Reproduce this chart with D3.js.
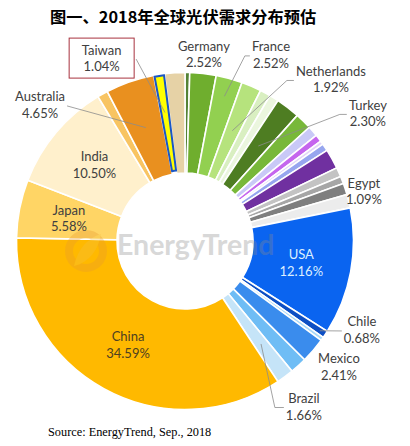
<!DOCTYPE html>
<html><head><meta charset="utf-8">
<script src="https://cdn.jsdelivr.net/npm/d3@7"></script>
<style>body{margin:0;background:#fff}svg{display:block}</style>
</head><body><svg id="chart" width="410" height="446"></svg>
<script>
// ---------- data ----------
const title = "图一、2018年全球光伏需求分布预估";
const sourceNote = "Source: EnergyTrend, Sep., 2018";
const watermark = "EnergyTrend";
// slices, clockwise from 12 o'clock ("" = unlabelled market)
const sliceNames = ["", "Germany", "France", "Netherlands", "", "", "Turkey", "", "", "", "", "", "", "", "", "Egypt", "", "USA", "Chile", "", "Mexico", "", "Brazil", "China", "Japan", "India", "", "Australia", "Taiwan", ""];
const sliceValues = [0.45, 2.52, 2.52, 1.92, 1.0, 0.9, 2.30, 1.6, 1.0, 0.7, 0.35, 0.7, 1.9, 0.9, 0.7, 1.09, 1.3, 12.16, 0.68, 0.35, 2.41, 1.6, 1.66, 34.59, 5.58, 10.50, 1.0, 4.65, 1.04, 1.94];
const sliceColors = ["#548235", "#6fae2e", "#92d050", "#b6e37d", "#d9efc1", "#ebf6de", "#4e7d22", "#78b83a", "#c9c9f7", "#c566ee", "#e2d6f8", "#97a6ef", "#7030a0", "#c3c3c3", "#a6a6a6", "#7f7f7f", "#ececec", "#0a64f0", "#0d4fc4", "#a8d8f8", "#3a8ced", "#6fbdf5", "#c5e4f8", "#ffb900", "#ffd565", "#fff0cc", "#f8c462", "#e9901f", "#ffff00", "#e6d2a6"];
const insideLabels = ["USA", "China", "Japan", "India"];

// ---------- layout (annotation placement, polar around centre) ----------
const W = 410, H = 446, cx = 185, cy = 241, rOuter = 168.5, rInner = 68;
const outsideLayout = {
  Germany:     {ang: 5.8,   r: 187.5},
  France:      {ang: 24.8,  r: 205,   side: -1, leadR: 150, stub: 5},
  Netherlands: {ang: 42.1,  r: 217.7, side: -1, leadR: 120, stub: 7},
  Turkey:      {ang: 55.1,  r: 223,   side: -1, leadR: 120, stub: 7},
  Egypt:       {ang: 74.5,  r: 185.7},
  Chile:       {ang: 116.7, r: 198,   side: -1, leadR: 162, stub: 0},
  Mexico:      {ang: 129.2, r: 198.7},
  Brazil:      {ang: 144.3, r: 203.8, side: -1, leadR: 128, stub: 9},
  Australia:   {ang: 313.2, r: 198.8, side: 1,  leadR: 120, stub: 0},
  Taiwan:      {ang: 335.5, r: 201,   side: 1,  leadR: 130, stub: 0, box: true}
};

const svg = d3.select("#chart");
const fmt = v => d3.format(".2f")(v) + "%";
const polar = (angDeg, r) => { const a = angDeg * Math.PI / 180; return [cx + r * Math.sin(a), cy - r * Math.cos(a)]; };

const data = sliceNames.map((n, i) => ({name: n, value: sliceValues[i], color: sliceColors[i]}));
const pie = d3.pie().sort(null).value(d => d.value).startAngle(0).endAngle(2 * Math.PI);
const arcs = pie(data);
const arc = d3.arc().innerRadius(rInner).outerRadius(rOuter);

// title
svg.append("text").attr("x", 50).attr("y", 23)
  .attr("font-family", "'Noto Sans CJK SC', sans-serif").attr("font-weight", 700)
  .attr("font-size", 16.3).attr("fill", "#000").text(title);

const g = svg.append("g").attr("transform", `translate(${cx},${cy})`);
g.selectAll("path.slice").data(arcs.filter(d => d.data.name !== "Taiwan")).join("path")
  .attr("class", "slice").attr("d", arc).attr("fill", d => d.data.color)
  .attr("stroke", "#fff").attr("stroke-width", 1.6);
// Taiwan highlighted slice
const tw = arcs.find(d => d.data.name === "Taiwan");
const twArc = d3.arc().innerRadius(rInner + 3).outerRadius(rOuter - 1.5);
g.append("path").attr("d", arc(tw)).attr("fill", "#fff");
g.append("path").attr("d", twArc({...tw, startAngle: tw.startAngle + 0.004, endAngle: tw.endAngle - 0.004}))
  .attr("fill", tw.data.color).attr("stroke", "#1a56c4").attr("stroke-width", 2);

// watermark
const wm = svg.append("g").attr("opacity", 0.33);
wm.append("circle").attr("cx", 86).attr("cy", 251).attr("r", 17).attr("fill", "none")
  .attr("stroke", "#e89a30").attr("stroke-width", 8);
wm.append("path").attr("d", "M74,266 C78,248 88,238 101,234 C98,250 90,262 74,266 Z").attr("fill", "#f5c040");
wm.append("text").attr("x", 117).attr("y", 255).attr("font-family", "Lato, sans-serif")
  .attr("font-weight", 700).attr("font-size", 28.5).attr("fill", "#8a8a8a").text(watermark);

// labels
const labelFont = "Lato, 'Open Sans', sans-serif";
function drawLabel(x, y, name, value, color) {
  const t = svg.append("text").attr("font-family", labelFont).attr("font-size", 13)
    .attr("fill", color).attr("text-anchor", "middle");
  t.append("tspan").attr("x", x).attr("y", y - 3.5).text(name);
  t.append("tspan").attr("x", x).attr("y", y + 13).text(fmt(value));
  return t;
}
arcs.filter(d => insideLabels.includes(d.data.name)).forEach(d => {
  const [x, y] = arc.centroid(d);
  const col = d.data.name === "USA" ? "#dcefff" : (d.data.name === "China" ? "#4d4020" : "#404040");
  drawLabel(cx + x, cy + y, d.data.name, d.data.value, col);
});
const leaderG = svg.append("g");
arcs.filter(d => outsideLayout[d.data.name]).forEach(d => {
  const L = outsideLayout[d.data.name];
  const [x, y] = polar(L.ang, L.r);
  const t = drawLabel(x, y, d.data.name, d.data.value, "#404040");
  const bb = t.node().getBBox();
  let half = bb.width / 2;
  if (L.box) {
    svg.insert("rect", "text").attr("x", x - 32.5).attr("y", y - 20).attr("width", 65).attr("height", 40)
      .attr("fill", "#fff").attr("stroke", "#a8323e").attr("stroke-width", 1);
    half = 32.5;
  }
  if (L.side) {
    const mid = (d.startAngle + d.endAngle) / 2 * 180 / Math.PI;
    const sx = x + L.side * (half + 2), sy = y + 1;
    const pts = [[sx, sy]];
    if (L.stub) pts.push([sx - L.side * L.stub * -1 * -1 + (L.side * L.stub) * 0 + (-L.side) * 0, sy]);
    const end = polar(mid, L.leadR);
    const path = d3.path();
    path.moveTo(sx, sy);
    if (L.stub) path.lineTo(sx + L.side * L.stub, sy);
    path.lineTo(end[0], end[1]);
    leaderG.append("path").attr("d", path.toString()).attr("fill", "none")
      .attr("stroke", "#8c8c8c").attr("stroke-width", 0.8);
  }
});

// source
svg.append("text").attr("x", 48).attr("y", 436)
  .attr("font-family", "'Liberation Serif', 'DejaVu Serif', serif").attr("font-size", 12.3)
  .attr("fill", "#000").text(sourceNote);
</script></body></html>
